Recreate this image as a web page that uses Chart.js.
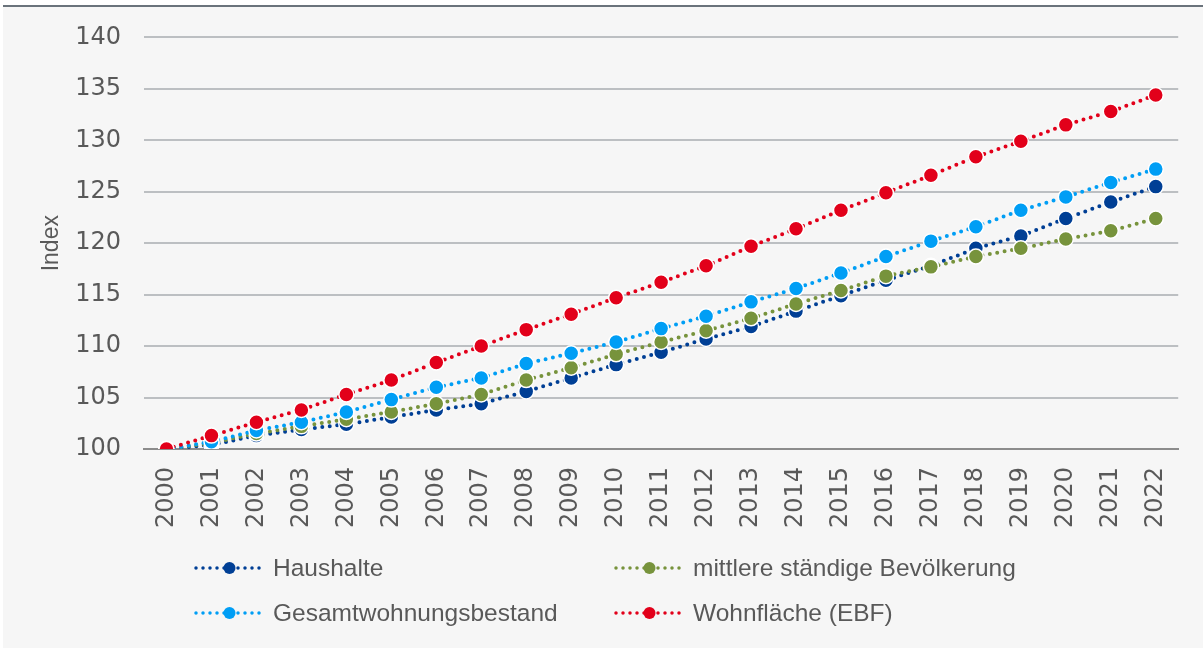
<!DOCTYPE html>
<html>
<head>
<meta charset="utf-8">
<script src="https://cdn.jsdelivr.net/npm/chart.js@4.4.1/dist/chart.umd.min.js"></script>
<style>
  html, body { margin: 0; padding: 0; background: #ffffff; }
  body { width: 1203px; height: 648px; position: relative; overflow: hidden; }
  #frame {
    position: absolute; left: 3px; top: 5px; right: 0; bottom: 0;
    background: #f6f6f6; border-top: 2px solid #6a737b;
  }
  #wrap { position: absolute; left: 0; top: 0; width: 1203px; height: 648px; }
</style>
</head>
<body>
<div id="frame"></div>
<div id="wrap"><canvas id="chart"></canvas></div>
<script>
// data (index, 2000 = 100)
const years = ['2000','2001','2002','2003','2004','2005','2006','2007','2008','2009','2010',
               '2011','2012','2013','2014','2015','2016','2017','2018','2019','2020','2021','2022'];
const haushalte = [100, 100.4, 101.3, 101.9, 102.4, 103.1, 103.8, 104.4, 105.6, 106.9, 108.2,
                   109.4, 110.7, 111.9, 113.4, 114.9, 116.4, 117.8, 119.5, 120.7, 122.4, 124.0, 125.5];
const bevoelkerung = [100, 100.6, 101.5, 102.2, 102.9, 103.6, 104.4, 105.3, 106.7, 107.9, 109.2,
                      110.4, 111.5, 112.7, 114.1, 115.4, 116.8, 117.7, 118.7, 119.5, 120.4, 121.2, 122.4];
const wohnungsbestand = [100, 100.7, 101.8, 102.6, 103.6, 104.8, 106.0, 106.9, 108.3, 109.3, 110.4,
                         111.7, 112.9, 114.3, 115.6, 117.1, 118.7, 120.2, 121.6, 123.2, 124.5, 125.9, 127.2];
const wohnflaeche = [100, 101.3, 102.6, 103.8, 105.3, 106.7, 108.4, 110.0, 111.6, 113.1, 114.7,
                     116.2, 117.8, 119.7, 121.4, 123.2, 124.9, 126.6, 128.4, 129.9, 131.5, 132.8, 134.4];
const yTicks = [100, 105, 110, 115, 120, 125, 130, 135, 140];

const textColor = '#595959';

function series(label, data, color, order) {
    return {
        label: label,
        data: data,
        order: order,
        borderColor: color,
        backgroundColor: color,
        borderWidth: 4,
        borderDash: [0, 7.5],
        borderCapStyle: 'round',
        pointRadius: 7.5,
        pointBorderWidth: 1.5,
        pointBorderColor: '#ffffff',
        pointBackgroundColor: color,
        tension: 0
    };
}

// legend laid out as a 2x2 grid like the original
const gridLegend = {
    id: 'gridLegend',
    afterDraw(chart) {
        const ctx = chart.ctx;
        const cols = [196, 616];
        const rows = [568, 613];
        chart.data.datasets.forEach((ds, i) => {
            const x = cols[i % 2];
            const y = rows[Math.floor(i / 2)];
            ctx.save();
            ctx.strokeStyle = ds.borderColor;
            ctx.lineWidth = 3.5;
            ctx.lineCap = 'round';
            ctx.setLineDash([0, 7]);
            ctx.beginPath();
            ctx.moveTo(x, y);
            ctx.lineTo(x + 67, y);
            ctx.stroke();
            ctx.setLineDash([]);
            ctx.fillStyle = ds.borderColor;
            ctx.beginPath();
            ctx.arc(x + 33.5, y, 6, 0, Math.PI * 2);
            ctx.fill();
            ctx.fillStyle = textColor;
            ctx.font = '24.5px "Liberation Sans", Arial, sans-serif';
            ctx.textBaseline = 'middle';
            ctx.fillText(ds.label, x + 77, y + 1);
            ctx.restore();
        });
    }
};

document.addEventListener('DOMContentLoaded', () => {
    const ctx = document.getElementById('chart').getContext('2d');
    new Chart(ctx, {
        type: 'line',
        data: {
            labels: years,
            datasets: [
                series('Haushalte', haushalte, '#003f95', 3),
                series('mittlere ständige Bevölkerung', bevoelkerung, '#77933c', 2),
                series('Gesamtwohnungsbestand', wohnungsbestand, '#009ef5', 1),
                series('Wohnfläche (EBF)', wohnflaeche, '#e2001a', 0)
            ]
        },
        plugins: [gridLegend],
        options: {
            responsive: true,
            maintainAspectRatio: false,
            animation: false,
            events: [],
            layout: { padding: { left: 0, right: 21, top: 37, bottom: 99 } },
            plugins: {
                legend: { display: false },
                tooltip: { enabled: false }
            },
            scales: {
                x: {
                    offset: true,
                    grid: { display: false, drawTicks: false },
                    border: { display: true, color: '#8c8c8c', width: 2 },
                    ticks: {
                        color: textColor,
                        minRotation: 90,
                        maxRotation: 90,
                        padding: 18,
                        autoSkip: false,
                        font: { family: '"DejaVu Sans", sans-serif', size: 24 }
                    },
                    afterFit(scale) { scale.height = 100; }
                },
                y: {
                    min: 100,
                    max: 140,
                    afterBuildTicks(scale) { scale.ticks = yTicks.map(v => ({ value: v })); },
                    grid: {
                        drawTicks: false,
                        lineWidth: 2,
                        color: c => c.tick && c.tick.value === 100 ? '#8c8c8c' : '#bcbfc2'
                    },
                    border: { display: false },
                    ticks: {
                        color: textColor,
                        padding: 23,
                        font: { family: '"DejaVu Sans", sans-serif', size: 24 }
                    },
                    title: {
                        display: true,
                        text: 'Index',
                        color: textColor,
                        padding: { top: 38, bottom: 0 },
                        font: { family: '"Liberation Sans", Arial, sans-serif', size: 23 }
                    },
                    afterFit(scale) { scale.width = 144; }
                }
            }
        }
    });
});
</script>
</body>
</html>
